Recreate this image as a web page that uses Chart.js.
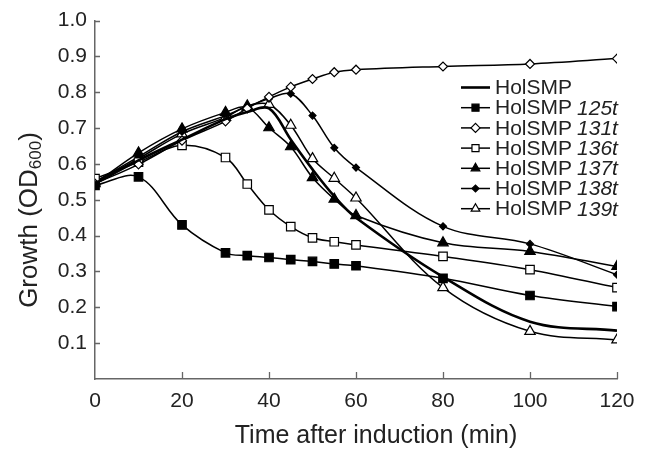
<!DOCTYPE html>
<html>
<head>
<meta charset="utf-8">
<script src="https://cdn.jsdelivr.net/npm/chart.js@4"></script>
<style>
  html, body { margin: 0; padding: 0; background: #fff; }
  #wrap { width: 649px; height: 450px; }
</style>
</head>
<body>
<div id="wrap"><canvas id="growthChart" width="649" height="450"></canvas></div>
<script>
// time points (min)
const times = [0, 10, 20, 30, 35, 40, 45, 50, 55, 60, 80, 100, 120];

// OD600 readings
const holsmp   = [0.545, 0.610, 0.668, 0.725, 0.745, 0.755, 0.668, 0.585, 0.510, 0.450, 0.285, 0.160, 0.135];
const holsmp125 = [0.540, 0.564, 0.430, 0.352, 0.344, 0.339, 0.333, 0.328, 0.321, 0.316, 0.281, 0.233, 0.202];
const holsmp131 = [0.545, 0.599, 0.665, 0.719, 0.755, 0.787, 0.815, 0.837, 0.856, 0.863, 0.872, 0.879, 0.894];
const holsmp136 = [0.559, 0.605, 0.652, 0.618, 0.544, 0.472, 0.425, 0.394, 0.383, 0.374, 0.342, 0.305, 0.255];
const holsmp137 = [0.545, 0.631, 0.698, 0.744, 0.758, 0.701, 0.648, 0.562, 0.502, 0.456, 0.380, 0.356, 0.314];
const holsmp138 = [0.550, 0.620, 0.690, 0.735, 0.760, 0.782, 0.796, 0.735, 0.645, 0.590, 0.426, 0.377, 0.291];
const holsmp139 = [0.550, 0.615, 0.684, 0.730, 0.762, 0.766, 0.708, 0.615, 0.560, 0.505, 0.255, 0.133, 0.109];

// legend text: base name + italic allele suffix
const baseName = 'HolSMP';
const suffixes = ['', '125t', '131t', '136t', '137t', '138t', '139t'];

const xTicks = [0, 20, 40, 60, 80, 100, 120];
const yTicks = [0.1, 0.2, 0.3, 0.4, 0.5, 0.6, 0.7, 0.8, 0.9, 1.0];

const xTitle = 'Time after induction (min)';
const yTitle = 'Growth (OD';
const ySub = '600';

const FONT = '"Liberation Sans", Arial, Helvetica, sans-serif';

function pts(vals) {
    return times.map((t, i) => ({ x: t, y: vals[i] }));
}

function series(vals, style, radius, filled, width) {
    return {
        data: pts(vals),
        borderColor: '#000',
        borderWidth: width || 1.5,
        pointStyle: style,
        pointRadius: radius,
        pointHoverRadius: radius,
        pointBackgroundColor: filled ? '#000' : '#fff',
        pointBorderColor: '#000',
        pointBorderWidth: 1.2,
        tension: 0.35,
        fill: false
    };
}

const datasets = [
    series(holsmp, false, 0, true, 2.6),
    series(holsmp125, 'rect', 6, true),
    series(holsmp131, 'rectRot', 4.5, false),
    series(holsmp136, 'rect', 6, false),
    series(holsmp137, 'triangle', 6, true),
    series(holsmp138, 'rectRot', 3.5, true),
    series(holsmp139, 'triangle', 6, false)
];
datasets.forEach((d, i) => { d.label = baseName + suffixes[i]; });

// inward tick marks, axis titles and the legend are drawn here
const decorations = {
    id: 'decorations',
    afterDraw(chart) {
        const ctx = chart.ctx;
        const xs = chart.scales.x, ys = chart.scales.y;
        const area = chart.chartArea;
        ctx.save();
        ctx.strokeStyle = '#666';
        ctx.lineWidth = 1.3;
        ctx.beginPath();
        yTicks.forEach(v => {
            const py = Math.round(ys.getPixelForValue(v)) + 0.5;
            ctx.moveTo(area.left, py);
            ctx.lineTo(area.left + 5, py);
        });
        xTicks.slice(1).forEach(v => {
            const px = Math.round(xs.getPixelForValue(v)) + 0.5;
            ctx.moveTo(px, area.bottom);
            ctx.lineTo(px, area.bottom - 7);
        });
        ctx.stroke();

        ctx.fillStyle = '#222';
        // x title
        ctx.font = '25px ' + FONT;
        ctx.textAlign = 'center';
        ctx.textBaseline = 'alphabetic';
        ctx.fillText(xTitle, 376, 443);

        // y title with subscript
        ctx.save();
        ctx.translate(37, 220);
        ctx.rotate(-Math.PI / 2);
        ctx.font = '26px ' + FONT;
        const w1 = ctx.measureText(yTitle).width;
        ctx.font = '17px ' + FONT;
        const w2 = ctx.measureText(ySub).width;
        ctx.font = '26px ' + FONT;
        const w3 = ctx.measureText(')').width;
        let x0 = -(w1 + w2 + w3) / 2;
        ctx.textAlign = 'left';
        ctx.fillText(yTitle, x0, 0);
        ctx.font = '17px ' + FONT;
        ctx.fillText(ySub, x0 + w1, 4);
        ctx.font = '26px ' + FONT;
        ctx.fillText(')', x0 + w1 + w2, 0);
        ctx.restore();

        // legend
        const lx0 = 461, lx1 = 490, tx = 495;
        datasets.forEach((d, i) => {
            const y = 87.5 + i * 20.2;
            ctx.strokeStyle = '#000';
            ctx.lineWidth = i === 0 ? 2.6 : 1.5;
            ctx.beginPath();
            ctx.moveTo(lx0, y);
            ctx.lineTo(lx1, y);
            ctx.stroke();
            if (d.pointStyle) {
                ctx.fillStyle = d.pointBackgroundColor;
                ctx.strokeStyle = '#000';
                ctx.lineWidth = 1.2;
                Chart.helpers.drawPoint(ctx, {
                    pointStyle: d.pointStyle,
                    radius: Math.min(d.pointRadius, 5),
                    rotation: 0,
                    borderWidth: 1.2
                }, (lx0 + lx1) / 2, y);
            }
            ctx.fillStyle = '#222';
            ctx.textAlign = 'left';
            ctx.textBaseline = 'middle';
            ctx.font = '21px ' + FONT;
            ctx.fillText(baseName, tx, y + 1);
            if (suffixes[i]) {
                const bw = ctx.measureText(baseName).width;
                ctx.font = 'italic 21px ' + FONT;
                ctx.fillText(suffixes[i], tx + bw + 5, y + 1);
            }
        });
        ctx.restore();
    }
};

new Chart(document.getElementById('growthChart').getContext('2d'), {
    type: 'line',
    data: { datasets: datasets },
    plugins: [decorations],
    options: {
        responsive: false,
        animation: false,
        events: [],
        layout: { padding: { top: 19, right: 32, left: 0, bottom: 0 } },
        plugins: {
            legend: { display: false },
            tooltip: { enabled: false }
        },
        scales: {
            x: {
                type: 'linear',
                min: 0,
                max: 120,
                afterFit: s => { s.height = 71; },
                afterBuildTicks: s => { s.ticks = xTicks.map(v => ({ value: v })); },
                grid: { display: false, drawTicks: false },
                border: { display: true, color: '#666', width: 1.5 },
                ticks: { color: '#222', font: { family: FONT, size: 21 }, padding: 10, maxRotation: 0 }
            },
            y: {
                type: 'linear',
                min: 0,
                max: 1.0,
                afterFit: s => { s.width = 95; },
                afterBuildTicks: s => { s.ticks = yTicks.map(v => ({ value: v })); },
                grid: { display: false, drawTicks: false },
                border: { display: true, color: '#666', width: 1.5 },
                ticks: {
                    color: '#222',
                    font: { family: FONT, size: 21 },
                    padding: 8,
                    callback: v => v.toFixed(1)
                }
            }
        }
    }
});
</script>
</body>
</html>
